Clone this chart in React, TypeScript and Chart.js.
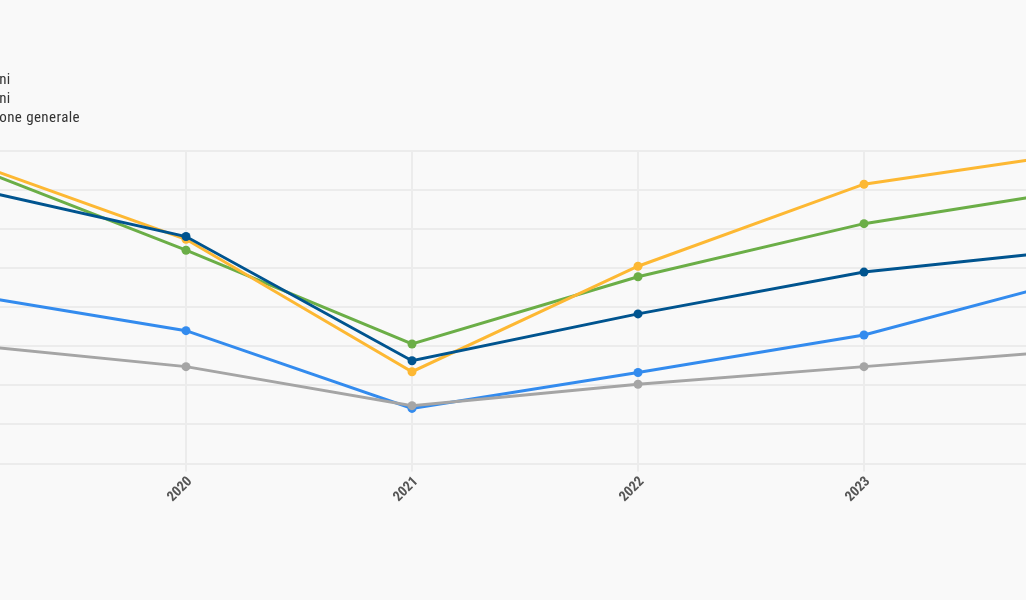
import React, { useEffect, useRef } from "react";
import { Chart, registerables } from "chart.js";

Chart.register(...registerables);

const years = ["2019", "2020", "2021", "2022", "2023", "2024"];
const seriesLabels = ["Uomini", "Donne", "18-34 anni", "35-64 anni", "Popolazione generale"];
const seriesColors = ["#00548F", "#FDB833", "#6BAE47", "#A5A5A5", "#338BEE"];
const darkBlueValues = [71.1, 58.1, 26.3, 38.3, 49.0, 55.1];
const yellowValues = [78.1, 57.4, 23.5, 50.5, 71.5, 80.0];
const greenValues = [77.2, 54.6, 30.6, 47.8, 61.4, 70.6];
const grayValues = [30.6, 24.8, 14.8, 20.3, 24.8, 29.3];
const blueValues = [43.6, 34.0, 14.1, 23.3, 32.9, 48.3];
const yMin = 0;
const yMax = 80;
const yStep = 10;

const condensed = "'Roboto Condensed', 'Liberation Sans Narrow', 'DejaVu Sans Condensed', sans-serif";

export default function App() {
  const canvasRef = useRef<HTMLCanvasElement | null>(null);

  useEffect(() => {
    if (!canvasRef.current) return;
    const values = [darkBlueValues, yellowValues, greenValues, grayValues, blueValues];
    const chart = new Chart(canvasRef.current, {
      type: "line",
      data: {
        labels: years,
        datasets: values.map((v, i) => ({
          label: seriesLabels[i],
          data: v,
          borderColor: seriesColors[i],
          backgroundColor: seriesColors[i],
          pointBackgroundColor: seriesColors[i],
          pointBorderColor: seriesColors[i],
          borderWidth: 3,
          pointRadius: 4.5,
          pointBorderWidth: 0,
          tension: 0,
          fill: false,
        })),
      },
      options: {
        animation: false,
        responsive: true,
        maintainAspectRatio: false,
        layout: { padding: { left: 40, right: 30, top: 151, bottom: 76.5 } },
        plugins: {
          legend: { display: false },
          tooltip: { enabled: false },
        },
        scales: {
          x: {
            offset: false,
            grid: { color: "#ececec", lineWidth: 2, tickLength: 8 },
            border: { display: false },
            ticks: {
              minRotation: 45,
              maxRotation: 45,
              padding: 2,
              labelOffset: 4,
              color: "#555555",
              font: { family: condensed, size: 14, weight: "bold" },
            },
            afterFit: (scale: any) => {
              scale.height = 60;
              scale.paddingLeft = 0;
              scale.paddingRight = 0;
            },
          },
          y: {
            min: yMin,
            max: yMax,
            grid: { color: "#ececec", lineWidth: 2 },
            border: { display: false },
            ticks: {
              stepSize: yStep,
              color: "#555555",
              font: { family: condensed, size: 14 },
            },
            afterFit: (scale: any) => {
              scale.width = 60;
              scale.paddingTop = 0;
              scale.paddingBottom = 0;
            },
          },
        },
      },
    });
    return () => chart.destroy();
  }, []);

  return (
    <div
      style={{
        position: "fixed",
        left: 0,
        top: 0,
        width: 1026,
        height: 600,
        background: "#f9f9f9",
        overflow: "hidden",
      }}
    >
      <div style={{ position: "absolute", left: -140, top: 0, width: 1260, height: 600 }}>
        <canvas ref={canvasRef} style={{ display: "block" }} />
      </div>
      <div
        style={{
          position: "absolute",
          top: 31,
          right: 946,
          whiteSpace: "nowrap",
          fontFamily: condensed,
          fontSize: 15,
          letterSpacing: 0.4,
          color: "#333333",
        }}
      >
        {seriesLabels.map((label, i) => (
          <div key={label} style={{ display: "flex", alignItems: "center", height: 19 }}>
            <span
              style={{
                display: "inline-block",
                width: 10,
                height: 10,
                borderRadius: 5,
                background: seriesColors[i],
                marginRight: 6,
              }}
            />
            <span>{label}</span>
          </div>
        ))}
      </div>
    </div>
  );
}
